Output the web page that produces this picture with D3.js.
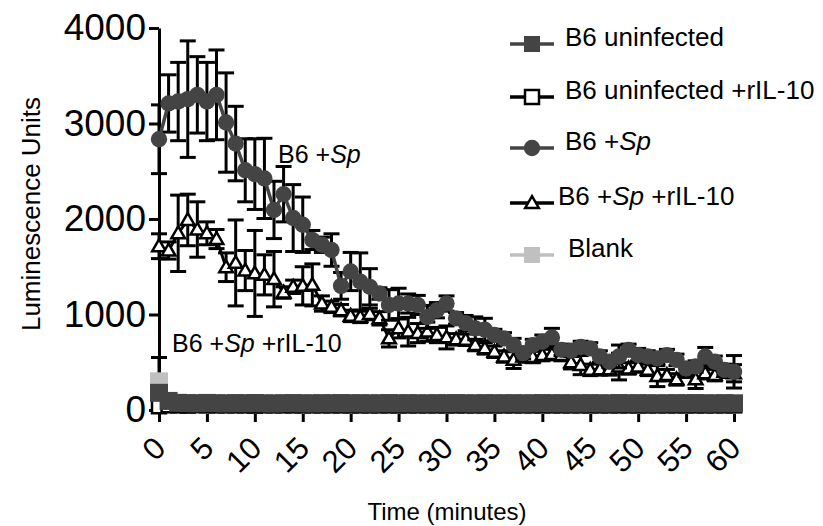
<!DOCTYPE html>
<html>
<head>
<meta charset="utf-8">
<script src="https://cdn.jsdelivr.net/npm/d3@7"></script>
<style>
body { margin: 0; background: #fff; }
text { font-family: "Liberation Sans", Arial, sans-serif; fill: #000; }
</style>
</head>
<body>
<svg id="chart" width="823" height="526"></svg>
<script>
// time points (minutes)
var minutes = [0,1,2,3,4,5,6,7,8,9,10,11,12,13,14,15,16,17,18,19,20,21,22,23,24,25,26,27,28,29,30,
  31,32,33,34,35,36,37,38,39,40,41,42,43,44,45,46,47,48,49,50,51,52,53,54,55,56,57,58,59,60];

var xTicks = [0,5,10,15,20,25,30,35,40,45,50,55,60];
var yTicks = [0,1000,2000,3000,4000];

// B6 +Sp
var spMean = [2835,3210,3230,3255,3300,3230,3300,3010,2790,2510,2470,2425,2095,2260,2010,1940,1780,1730,1675,1300,
  1450,1345,1290,1220,1100,1115,1115,1100,975,1045,1115,960,910,855,840,785,750,680,595,680,
  715,760,630,620,660,645,560,505,560,630,575,560,540,575,525,435,455,560,505,420,400];
var spErr = [360,300,410,610,400,410,470,520,390,330,370,420,300,290,350,290,100,80,170,140,
  200,300,190,60,160,160,100,100,120,80,80,60,80,120,120,60,60,70,60,60,
  70,95,60,60,60,60,60,60,120,60,70,60,60,60,60,60,60,95,60,60,170];

// B6 +Sp +rIL-10
var spIlMean = [1715,1670,1850,1990,1890,1850,1790,1495,1540,1460,1430,1415,1370,1230,1290,1300,1310,1115,1080,1045,
  985,975,1005,960,750,855,820,805,820,785,760,740,735,680,645,610,560,525,560,555,
  575,585,575,500,470,420,425,425,455,435,455,420,355,365,320,400,320,385,365,400,385];
var spIlErr = [130,90,400,270,290,120,100,150,450,210,450,210,290,60,70,200,220,80,60,60,
  60,60,60,70,90,100,150,100,100,80,120,60,60,60,60,60,60,90,60,60,
  60,60,60,70,100,60,60,60,140,60,60,60,110,60,60,60,95,60,60,60,90];

// B6 uninfected
var uninf = [180,95,75,72,70,74,71,69,72,70,73,70,68,71,72,70,69,71,70,72,
  70,71,69,70,72,70,71,70,69,71,70,72,70,69,71,70,70,71,69,70,
  72,70,71,69,70,71,70,69,72,70,71,70,69,70,71,70,72,70,69,71,70];
// B6 uninfected +rIL-10
var uninfIl = [40,50,50,48,52,50,49,51,50,50,48,50,51,50,49,50,50,51,49,50,
  50,50,49,51,50,50,49,50,51,50,50,49,50,50,51,50,49,50,50,51,
  50,50,49,50,50,51,50,50,49,50,50,51,50,49,50,50,50,51,50,49,50];
// Blank
var blank = [300,60,55,55,56,55,54,55,56,55,55,54,55,56,55,55,54,55,55,56,
  55,55,54,55,56,55,55,54,55,55,56,55,55,54,55,55,56,55,55,54,
  55,55,56,55,55,54,55,55,56,55,55,54,55,55,56,55,55,54,55,55,55];
var blankErr = [250,0,0,0,0,0,0,0,0,0,0,0,0,0,0,0,0,0,0,0,
  0,0,0,0,0,0,0,0,0,0,0,0,0,0,0,0,0,0,0,0,
  0,0,0,0,0,0,0,0,0,0,0,0,0,0,0,0,0,0,0,0,0];

var legendLabels = ["B6 uninfected", "B6 uninfected +rIL-10", "B6 +Sp", "B6 +Sp +rIL-10", "Blank"];

var DARK = "#444444", LIGHT = "#c0c0c0";

var svg = d3.select("#chart");

var x = d3.scaleLinear().domain([0, 60]).range([159, 734]);
var y = d3.scaleLinear().domain([0, 4000]).range([410, 28]);

// axes
var yAxis = svg.append("g")
    .attr("transform", "translate(159,0)")
    .call(d3.axisLeft(y).tickValues(yTicks).tickFormat(d3.format("d")).tickSize(10).tickPadding(3).tickSizeOuter(0));
yAxis.selectAll("text").style("font-size", "37px");

var xAxis = svg.append("g")
    .attr("transform", "translate(0,410)")
    .call(d3.axisBottom(x).tickValues(xTicks).tickSize(12).tickSizeOuter(0));
xAxis.selectAll("text")
    .style("font-size", "31px")
    .attr("text-anchor", "end")
    .attr("x", 0).attr("y", 0).attr("dy", 0)
    .attr("transform", "translate(8,40) rotate(-45)");

svg.selectAll(".domain, .tick line").attr("stroke", "#000").attr("stroke-width", 3);

// axis titles
svg.append("text")
    .attr("transform", "translate(40,214) rotate(-90)")
    .attr("text-anchor", "middle")
    .style("font-size", "26px")
    .text("Luminescence Units");

svg.append("text")
    .attr("x", 447).attr("y", 520)
    .attr("text-anchor", "middle")
    .style("font-size", "24px")
    .text("Time (minutes)");

var sym = function(type, size) { return d3.symbol().type(type).size(size)(); };

var drawErrors = function(means, errs) {
  var g = svg.append("g").attr("stroke", "#000").attr("stroke-width", 3);
  minutes.forEach(function(t, i) {
    if (!errs[i]) return;
    var cx = x(t), y1 = y(means[i] + errs[i]), y2 = y(Math.max(0, means[i] - errs[i]));
    g.append("line").attr("x1", cx).attr("x2", cx).attr("y1", y1).attr("y2", y2);
    g.append("line").attr("x1", cx - 8).attr("x2", cx + 8).attr("y1", y1).attr("y2", y1);
    g.append("line").attr("x1", cx - 8).attr("x2", cx + 8).attr("y1", y2).attr("y2", y2);
  });
};

var drawLine = function(values, color, width) {
  svg.append("path")
      .datum(values)
      .attr("fill", "none")
      .attr("stroke", color)
      .attr("stroke-width", width)
      .attr("d", d3.line().x(function(d, i) { return x(minutes[i]); }).y(function(d) { return y(d); }));
};

var drawMarkers = function(values, path, fill, stroke, sw, dy) {
  svg.append("g").selectAll("path")
      .data(values)
      .enter().append("path")
      .attr("d", path)
      .attr("transform", function(d, i) { return "translate(" + x(minutes[i]) + "," + (y(d) + (dy || 0)) + ")"; })
      .attr("fill", fill)
      .attr("stroke", stroke)
      .attr("stroke-width", sw);
};

// Blank
drawErrors(blank, blankErr);
drawLine(blank, LIGHT, 3);
drawMarkers(blank, sym(d3.symbolSquare, 324), LIGHT, "none", 0);

// B6 uninfected +rIL-10
drawLine(uninfIl, "#000", 3);
drawMarkers(uninfIl, sym(d3.symbolSquare, 196), "#fff", "#000", 2.5);

// B6 uninfected
drawLine(uninf, DARK, 3);
drawMarkers(uninf, sym(d3.symbolSquare, 324), DARK, "none", 0);

// B6 +Sp +rIL-10
drawErrors(spIlMean, spIlErr);
drawLine(spIlMean, "#000", 3);
drawMarkers(spIlMean, sym(d3.symbolTriangle, 80), "#fff", "#000", 2.5, 1);

// B6 +Sp
drawErrors(spMean, spErr);
drawLine(spMean, DARK, 3.5);
drawMarkers(spMean, sym(d3.symbolCircle, 210), DARK, "none", 0);

// annotations
var a1 = svg.append("text").attr("x", 278).attr("y", 163).style("font-size", "25px");
a1.append("tspan").text("B6 +");
a1.append("tspan").style("font-style", "italic").text("Sp");

var a2 = svg.append("text").attr("x", 172).attr("y", 352).style("font-size", "25px");
a2.append("tspan").text("B6 +");
a2.append("tspan").style("font-style", "italic").text("Sp");
a2.append("tspan").text(" +rIL-10");

// legend
var legendRows = [
  {y: 44, line: DARK, path: sym(d3.symbolSquare, 256), fill: DARK, stroke: "none", tx: 565},
  {y: 97, line: "#000", path: sym(d3.symbolSquare, 196), fill: "#fff", stroke: "#000", tx: 565},
  {y: 148, line: DARK, path: sym(d3.symbolCircle, 210), fill: DARK, stroke: "none", tx: 565},
  {y: 203, line: "#000", path: sym(d3.symbolTriangle, 80), fill: "#fff", stroke: "#000", tx: 558},
  {y: 255, line: LIGHT, path: sym(d3.symbolSquare, 256), fill: LIGHT, stroke: "none", tx: 568}
];

var legend = svg.append("g");
legendRows.forEach(function(r, i) {
  legend.append("line")
      .attr("x1", 510).attr("x2", 554).attr("y1", r.y).attr("y2", r.y)
      .attr("stroke", r.line).attr("stroke-width", 3.5);
  legend.append("path")
      .attr("d", r.path)
      .attr("transform", "translate(532," + (r.y + (i == 3 ? 1 : 0)) + ")")
      .attr("fill", r.fill).attr("stroke", r.stroke).attr("stroke-width", 2.5);
  var t = legend.append("text").attr("x", r.tx).attr("y", r.y + 2).style("font-size", "26px");
  var label = legendLabels[i];
  if (label.indexOf("Sp") >= 0) {
    var parts = label.split("Sp");
    t.append("tspan").text(parts[0]);
    t.append("tspan").style("font-style", "italic").text("Sp");
    t.append("tspan").text(parts[1]);
  } else {
    t.text(label);
  }
});
</script>
</body>
</html>
